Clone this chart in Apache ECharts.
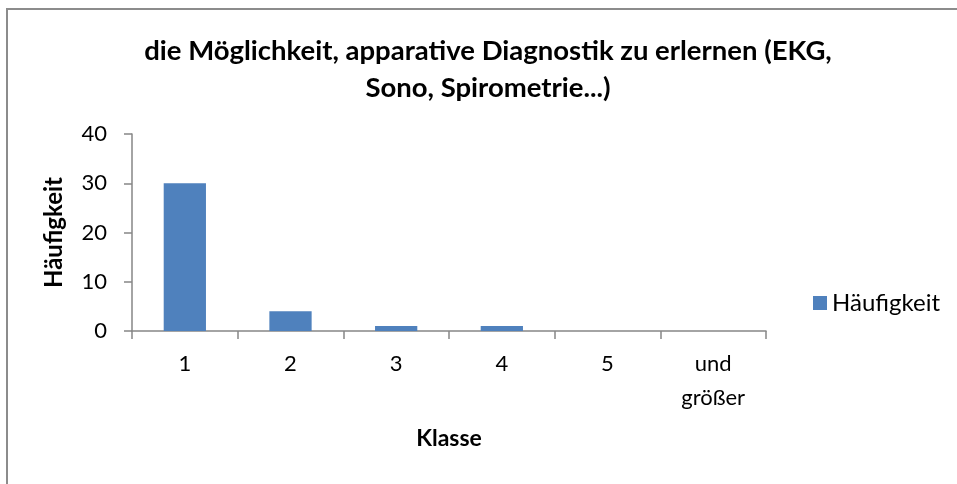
<!DOCTYPE html>
<html>
<head>
<meta charset="utf-8">
<script src="https://cdn.jsdelivr.net/npm/echarts@6/dist/echarts.min.js"></script>
<style>
  html, body { margin: 0; padding: 0; background: #fff; }
  #chart { width: 957px; height: 484px; }
</style>
</head>
<body>
<div id="chart"></div>
<script>
// Histogramm: Häufigkeit je Klasse
const titleLines = ['die Möglichkeit, apparative Diagnostik zu erlernen (EKG,', 'Sono, Spirometrie...)'];
const classes = ['1', '2', '3', '4', '5', 'und\ngrößer'];
const counts = [30, 4, 1, 1, 0, 0];
const seriesName = 'Häufigkeit';
const xAxisName = 'Klasse';
const yAxisName = 'Häufigkeit';
const yMin = 0;
const yMax = 40;
const yStep = 10;

const FONT = 'Lato';
const barColor = '#4F81BD';
const axisColor = '#868686';

const chart = echarts.init(document.getElementById('chart'));

chart.setOption({
  animation: false,
  backgroundColor: '#fff',
  title: {
    text: titleLines.join('\n'),
    left: 488,
    top: 33,
    padding: 0,
    textAlign: 'center',
    textStyle: {
      fontFamily: FONT,
      fontWeight: 'bold',
      fontSize: 27.5,
      lineHeight: 37,
      color: '#000',
    },
  },
  legend: {
    left: 808,
    top: 286,
    itemWidth: 14,
    itemHeight: 14,
    itemGap: 8,
    icon: 'rect',
    textStyle: { fontFamily: FONT, fontSize: 24, color: '#000' },
    data: [seriesName],
  },
  grid: { left: 132, right: 191, top: 134, bottom: 153, containLabel: false },
  xAxis: {
    type: 'category',
    data: classes,
    name: xAxisName,
    nameLocation: 'middle',
    nameGap: 96,
    nameTextStyle: { fontFamily: FONT, fontWeight: 'bold', fontSize: 23, color: '#000' },
    axisLine: { lineStyle: { color: axisColor, width: 1.5 } },
    axisTick: { show: true, length: 8, lineStyle: { color: axisColor, width: 1.5 } },
    axisLabel: {
      fontFamily: FONT,
      fontSize: 22,
      lineHeight: 34,
      color: '#000',
      margin: 16,
      interval: 0,
    },
  },
  yAxis: {
    type: 'value',
    min: yMin,
    max: yMax,
    interval: yStep,
    name: yAxisName,
    nameLocation: 'middle',
    nameGap: 66,
    nameRotate: 90,
    nameTextStyle: { fontFamily: FONT, fontWeight: 'bold', fontSize: 24, color: '#000' },
    axisLine: { show: true, lineStyle: { color: axisColor, width: 1.5 } },
    axisTick: { show: true, length: 8, lineStyle: { color: axisColor, width: 1.5 } },
    axisLabel: { fontFamily: FONT, fontSize: 22, color: '#000', margin: 25 },
    splitLine: { show: false },
  },
  series: [{
    name: seriesName,
    type: 'bar',
    data: counts,
    barWidth: '40%',
    itemStyle: { color: barColor },
  }],
  graphic: [{
    type: 'rect',
    silent: true,
    shape: { x: 7, y: 9, width: 1000, height: 600 },
    style: { fill: 'none', stroke: '#8c8c8c', lineWidth: 2 },
  }],
});
</script>
</body>
</html>
